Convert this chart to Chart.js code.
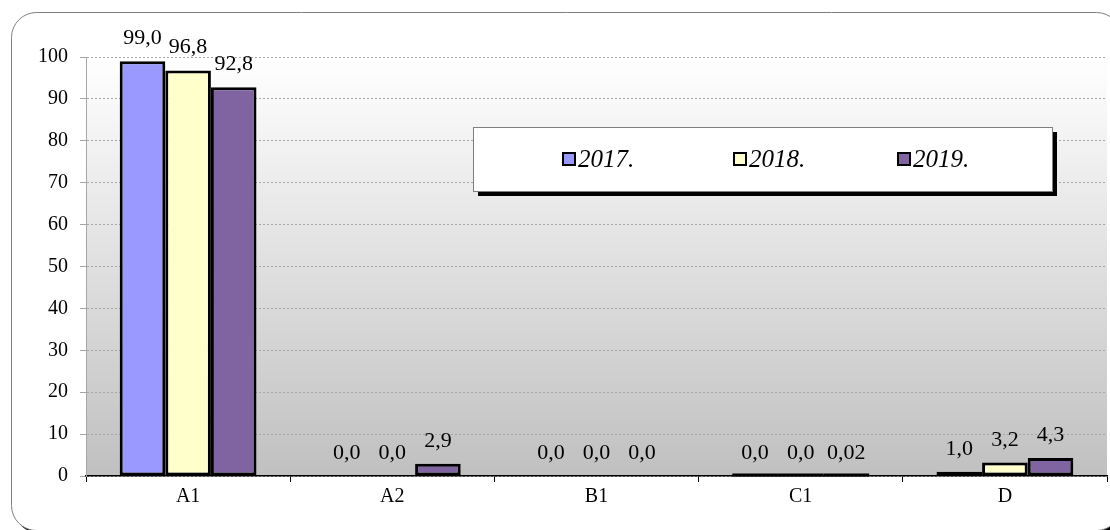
<!DOCTYPE html>
<html>
<head>
<meta charset="utf-8">
<script src="https://cdn.jsdelivr.net/npm/chart.js@4"></script>
<style>
  html, body { margin: 0; padding: 0; background: #ffffff; }
  canvas { display: block; }
</style>
</head>
<body>
<canvas id="c" width="1110" height="530"></canvas>
<script>
// ---- data ----
const categories = ['A1', 'A2', 'B1', 'C1', 'D'];
const seriesLabels = ['2017.', '2018.', '2019.'];
const values2017 = [99.0, 0.0, 0.0, 0.01, 1.0];
const values2018 = [96.8, 0.0, 0.0, 0.01, 3.2];
const values2019 = [92.8, 2.9, 0.0, 0.02, 4.3];
const decimals2017 = [1, 1, 1, 1, 1];
const decimals2018 = [1, 1, 1, 1, 1];
const decimals2019 = [1, 1, 1, 2, 1];
const yMin = 0, yMax = 100, yStep = 10;
const seriesColors = ['#9999ff', '#ffffcc', '#8064a2'];

const SERIF = '"Liberation Serif", "Times New Roman", serif';

function fmt(v, d) { return v.toFixed(d).replace('.', ','); }

function roundRectPath(ctx, x, y, w, h, r) {
  ctx.beginPath();
  ctx.moveTo(x + r, y);
  ctx.lineTo(x + w - r, y);
  ctx.arc(x + w - r, y + r, r, -Math.PI / 2, 0);
  ctx.lineTo(x + w, y + h - r);
  ctx.arc(x + w - r, y + h - r, r, 0, Math.PI / 2);
  ctx.lineTo(x + r, y + h);
  ctx.arc(x + r, y + h - r, r, Math.PI / 2, Math.PI);
  ctx.lineTo(x, y + r);
  ctx.arc(x + r, y + r, r, Math.PI, Math.PI * 1.5);
  ctx.closePath();
}

const backgroundPlugin = {
  id: 'bg',
  beforeDraw(chart) {
    const ctx = chart.ctx;
    const a = chart.chartArea;
    ctx.save();
    ctx.fillStyle = '#ffffff';
    ctx.fillRect(0, 0, chart.width, chart.height);
    // frame shadow
    roundRectPath(ctx, 14.5, 15.5, 1110, 518, 25);
    ctx.fillStyle = '#000000';
    ctx.fill();
    // frame
    roundRectPath(ctx, 11.5, 12.5, 1110, 518, 25);
    ctx.fillStyle = '#ffffff';
    ctx.fill();
    ctx.lineWidth = 1;
    ctx.strokeStyle = '#7f7f7f';
    ctx.stroke();
    // plot area gradient
    const g = ctx.createLinearGradient(0, a.top, 0, a.bottom);
    g.addColorStop(0, '#ffffff');
    g.addColorStop(1, '#c0c0c0');
    ctx.fillStyle = g;
    ctx.fillRect(a.left, a.top, a.right - a.left, a.bottom - a.top);
    ctx.restore();
  }
};

const labelsPlugin = {
  id: 'barLabels',
  afterDatasetsDraw(chart) {
    const ctx = chart.ctx;
    ctx.save();
    chart.data.datasets.forEach((ds, i) => {
      const meta = chart.getDatasetMeta(i);
      meta.data.forEach((bar, j) => {
        const v = ds.data[j];
        const props = bar.getProps(['x', 'y', 'base', 'width'], true);
        const top = Math.min(props.y, props.base);
        // very small non-zero bars: draw their outline as a thick line
        if (v > 0 && Math.abs(props.base - props.y) < 2) {
          ctx.fillStyle = '#000000';
          ctx.fillRect(props.x - props.width / 2, props.base - 2, props.width, 3);
        }
        ctx.fillStyle = '#000000';
        ctx.font = '22px ' + SERIF;
        ctx.textAlign = 'center';
        ctx.textBaseline = 'alphabetic';
        ctx.fillText(fmt(v, ds.decimals[j]), props.x, top - 17);
      });
    });
    ctx.restore();
  }
};

const legendPlugin = {
  id: 'floatLegend',
  afterDraw(chart) {
    const ctx = chart.ctx;
    const bx = 473, by = 127, bw = 579, bh = 64;
    ctx.save();
    ctx.fillStyle = '#000000';
    ctx.fillRect(bx + 5, by + 5, bw, bh);
    ctx.fillStyle = '#ffffff';
    ctx.fillRect(bx, by, bw, bh);
    ctx.lineWidth = 1;
    ctx.strokeStyle = '#7f7f7f';
    ctx.strokeRect(bx + 0.5, by + 0.5, bw, bh);
    const offs = [89, 260, 424];
    const cy = by + 32;
    chart.data.datasets.forEach((ds, i) => {
      const sx = bx + offs[i];
      ctx.fillStyle = '#000000';
      ctx.fillRect(sx, cy - 7, 14, 14);
      ctx.fillStyle = ds.backgroundColor;
      ctx.fillRect(sx + 2, cy - 5, 10, 10);
      ctx.fillStyle = '#000000';
      ctx.font = 'italic 25px ' + SERIF;
      ctx.textAlign = 'left';
      ctx.textBaseline = 'middle';
      ctx.fillText(ds.label, sx + 16, cy + 1);
    });
    ctx.restore();
  }
};

function makeDataset(label, data, decimals, color) {
  return {
    label: label,
    data: data,
    decimals: decimals,
    backgroundColor: color,
    borderColor: '#000000',
    borderWidth: 3,
    borderSkipped: false,
    categoryPercentage: 0.67,
    barPercentage: 1.0
  };
}

new Chart(document.getElementById('c'), {
  type: 'bar',
  data: {
    labels: categories,
    datasets: [
      makeDataset(seriesLabels[0], values2017, decimals2017, seriesColors[0]),
      makeDataset(seriesLabels[1], values2018, decimals2018, seriesColors[1]),
      makeDataset(seriesLabels[2], values2019, decimals2019, seriesColors[2])
    ]
  },
  options: {
    responsive: false,
    animation: false,
    devicePixelRatio: 1,
    layout: { padding: { top: 57, right: 3, left: 0, bottom: 0 } },
    plugins: {
      legend: { display: false },
      tooltip: { enabled: false }
    },
    scales: {
      x: {
        grid: {
          display: true,
          drawOnChartArea: false,
          drawTicks: true,
          tickLength: 6,
          color: '#000000',
          offset: true,
          lineWidth: 1
        },
        border: { display: true, color: '#000000', width: 1.5 },
        ticks: {
          color: '#000000',
          font: { family: SERIF, size: 20 },
          padding: 3
        },
        afterFit(s) { s.height = 54; }
      },
      y: {
        min: yMin,
        max: yMax,
        ticks: {
          stepSize: yStep,
          color: '#000000',
          font: { family: SERIF, size: 20 },
          padding: 12
        },
        grid: {
          color: '#a6a6a6',
          lineWidth: 1,
          drawTicks: true,
          tickLength: 6
        },
        border: { display: true, color: '#a6a6a6', width: 1, dash: [2, 2] },
        afterFit(s) { s.width = 86; }
      }
    }
  },
  plugins: [backgroundPlugin, labelsPlugin, legendPlugin]
});
</script>
</body>
</html>
